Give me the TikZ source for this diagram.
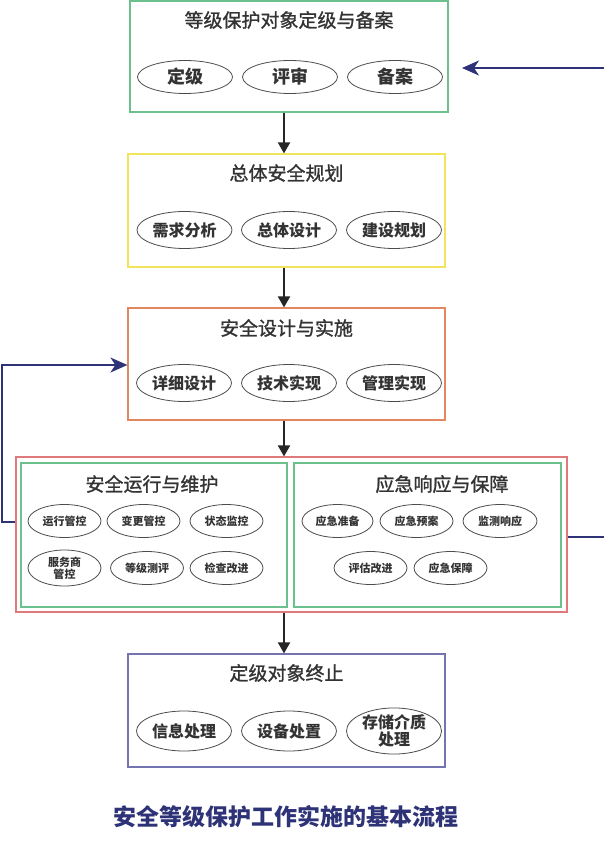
\documentclass[tikz,border=0pt]{standalone}
\usepackage{fontspec}
\setmainfont{Noto Sans CJK SC}
\newfontfamily\titlefont[FakeBold=1.2]{Noto Sans CJK SC}
\usetikzlibrary{shapes.geometric,arrows.meta}
\definecolor{bgreen}{HTML}{6CC08E}
\definecolor{byellow}{HTML}{F2E45A}
\definecolor{borange}{HTML}{E2875F}
\definecolor{bred}{HTML}{E07A7A}
\definecolor{bblue}{HTML}{7474B0}
\definecolor{navy}{HTML}{2E3276}
\definecolor{txt}{HTML}{333333}
\begin{document}
\begin{tikzpicture}[x=1pt,y=-1pt,
  box/.style={draw=#1, line width=1.2pt, rectangle, inner sep=0pt},
  ttl/.style={text=txt, font=\titlefont\fontsize{19}{22}\selectfont},
  ell/.style={ellipse, draw=black!70, line width=0.8pt, fill=white, inner sep=0pt, text=txt, align=center},
  bigell/.style={ell, minimum width=95pt, minimum height=37pt, font=\fontsize{16}{17}\selectfont\bfseries},
  smell/.style={ell, minimum width=73pt, minimum height=33pt, font=\fontsize{11}{12}\selectfont\bfseries},
  varrow/.style={draw=black!85, line width=2pt, -{Triangle[width=12pt,length=11pt]}},
  farrow/.style={draw=navy, line width=1.6pt, -{Stealth[width=15pt,length=17pt,inset=5pt]}}
]
\useasboundingbox (0,0) rectangle (603,848);
\fill[white] (0,0) rectangle (603,848);

% Box 1
\node[box=bgreen, minimum width=318pt, minimum height=111pt] (b1) at (289,56.5) {};
\node[ttl] (t1) at (289,20) {等级保护对象定级与备案};
\node[bigell, font=\fontsize{18}{19}\selectfont\bfseries, minimum height=33pt] (e11) at (185,77) {定级};
\node[bigell, font=\fontsize{18}{19}\selectfont\bfseries, minimum height=33pt] (e12) at (290,77) {评审};
\node[bigell, font=\fontsize{18}{19}\selectfont\bfseries, minimum height=33pt] (e13) at (395,77) {备案};

% Box 2
\node[box=byellow, minimum width=317pt, minimum height=113pt] (b2) at (286.5,210.5) {};
\node[ttl] (t2) at (286.5,173) {总体安全规划};
\node[bigell] (e21) at (184.5,230) {需求分析};
\node[bigell] (e22) at (289,230) {总体设计};
\node[bigell] (e23) at (394,230) {建设规划};

% Box 3
\node[box=borange, minimum width=317pt, minimum height=112pt] (b3) at (286.5,364) {};
\node[ttl] (t3) at (286.5,328) {安全设计与实施};
\node[bigell] (e31) at (184,383) {详细设计};
\node[bigell] (e32) at (289,383) {技术实现};
\node[bigell] (e33) at (394,383) {管理实现};

% Box 4
\node[box=bred, minimum width=551pt, minimum height=155pt] (b4) at (291.5,534.5) {};
\node[box=bgreen, minimum width=266pt, minimum height=144pt] (b4l) at (154,535) {};
\node[box=bgreen, minimum width=267pt, minimum height=144pt] (b4r) at (427.5,535) {};
\node[ttl] (t4l) at (152,484) {安全运行与维护};
\node[ttl] (t4r) at (442,484) {应急响应与保障};
\node[smell] (s1) at (64.5,521) {运行管控};
\node[smell] (s2) at (143.5,521) {变更管控};
\node[smell] (s3) at (226.5,521) {状态监控};
\node[smell, minimum height=36pt] (s4) at (64.5,568) {服务商\\管控};
\node[smell] (s5) at (147,568) {等级测评};
\node[smell] (s6) at (226.5,568) {检查改进};
\node[smell, minimum width=71pt] (r1) at (337.5,521) {应急准备};
\node[smell] (r2) at (416.5,521) {应急预案};
\node[smell, minimum width=74pt] (r3) at (500,521) {监测响应};
\node[smell] (r4) at (370.5,568) {评估改进};
\node[smell] (r5) at (450.5,568) {应急保障};

% Box 5
\node[box=bblue, minimum width=317pt, minimum height=113pt] (b5) at (286.5,710.5) {};
\node[ttl] (t5) at (286.5,673) {定级对象终止};
\node[bigell, minimum height=40pt] (e51) at (184,731) {信息处理};
\node[bigell, minimum height=40pt] (e52) at (289,731) {设备处置};
\node[bigell, minimum height=40pt, font=\fontsize{16}{17}\selectfont\bfseries] (e53) at (394,731) {存储介质\\处理};

% Caption
\node[text=navy, font=\fontsize{23}{25}\selectfont\bfseries] (cap) at (286,817) {安全等级保护工作实施的基本流程};

% Vertical arrows
\coordinate (ax) at (284,0);
\draw[varrow] (b1.south -| ax) -- (b2.north -| ax);
\draw[varrow] (b2.south -| ax) -- (b3.north -| ax);
\draw[varrow] (b3.south -| ax) -- (b4.north -| ax);
\draw[varrow] (b4.south -| ax) -- (b5.north -| ax);

% Feedback left
\coordinate (fl1) at (2,522);
\coordinate (fl2) at (2,365);
\draw[farrow] (b4.west |- fl1) -- (fl1) -- (fl2) -- (b3.west |- fl2);

% Feedback right
\coordinate (fr1) at (607,537);
\coordinate (fr2) at (607,68);
\coordinate (fr3) at (462,68);
\draw[farrow] (b4.east |- fr1) -- (fr1) -- (fr2) -- (fr3);
\end{tikzpicture}
\end{document}
